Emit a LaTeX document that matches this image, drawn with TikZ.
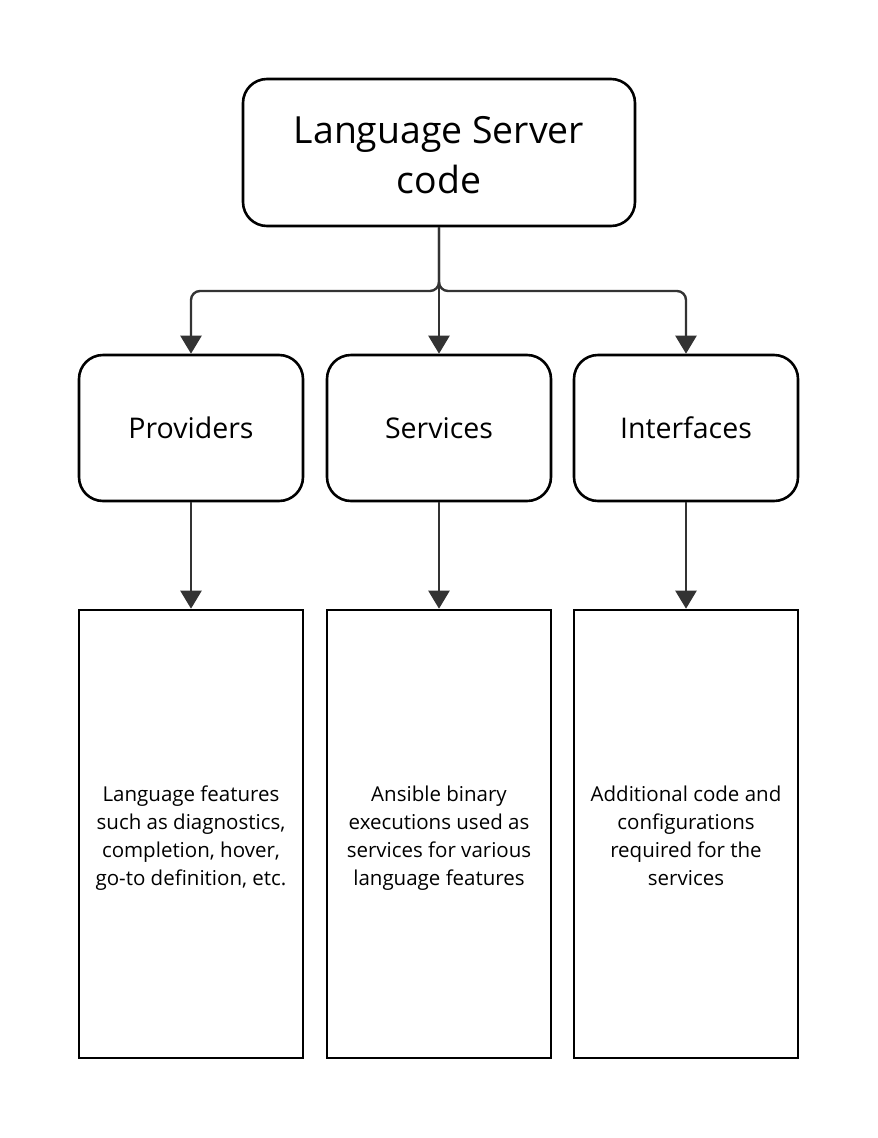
\documentclass[tikz,border=0pt]{standalone}
\usepackage{fontspec}
\setmainfont{Open Sans}
\usetikzlibrary{arrows.meta}
\definecolor{lineg}{HTML}{333333}
\begin{document}
\begin{tikzpicture}[x=1pt,y=-1pt,
  rbox/.style={draw=black,line width=2.6pt,rounded corners=24pt,align=center,inner sep=0pt},
  sbox/.style={draw=black,line width=2.6pt,align=center,inner sep=0pt},
  desc/.style={align=center,font=\fontsize{20.5}{28}\selectfont,anchor=north,inner sep=0pt},
  conn/.style={draw=lineg,line width=2.4pt,rounded corners=9pt,-{Triangle[width=21pt,length=18pt]}}]
\useasboundingbox (0,0) rectangle (878,1138);
\node[rbox,minimum width=392pt,minimum height=147pt] (top) at (439,152.5) {};
\node[align=center,font=\fontsize{37.4}{50}\selectfont] (toptext) at (439,155) {Language Server\\code};
\node[rbox,minimum width=224pt,minimum height=146pt,font=\fontsize{28.5}{32}\selectfont] (prov) at (191,428) {Providers};
\node[rbox,minimum width=224pt,minimum height=146pt,font=\fontsize{28.5}{32}\selectfont] (serv) at (439,428) {Services};
\node[rbox,minimum width=224pt,minimum height=146pt,font=\fontsize{28.5}{32}\selectfont] (intf) at (686,428) {Interfaces};
\node[sbox,minimum width=224pt,minimum height=448pt] (pb) at (191,834) {};
\node[sbox,minimum width=224pt,minimum height=448pt] (sb) at (439,834) {};
\node[sbox,minimum width=224pt,minimum height=448pt] (ib) at (686,834) {};
\node[desc] (pt) at (191,782) {\strut Language features\\such as diagnostics,\\completion, hover,\\go-to definition, etc.};
\node[desc] (st) at (439,782) {\strut Ansible binary\\executions used as\\services for various\\language features};
\node[desc] (it) at (686,782) {\strut Additional code and\\configurations\\required for the\\services};
\coordinate (j) at (439,291);
\draw[conn] (top.south) |- (prov.north |- j) -- (prov.north);
\draw[conn] (top.south) |- (intf.north |- j) -- (intf.north);
\draw[conn] (top.south) -- (serv.north);
\draw[conn] (prov.south) -- (pb.north);
\draw[conn] (serv.south) -- (sb.north);
\draw[conn] (intf.south) -- (ib.north);
\end{tikzpicture}
\end{document}
